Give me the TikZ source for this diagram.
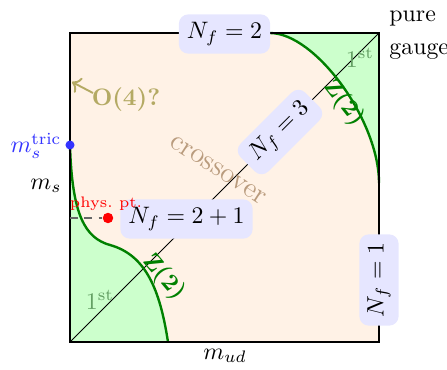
\documentclass[tikz,border=0pt]{standalone}
\usetikzlibrary{arrows.meta}
\definecolor{orfill}{RGB}{255,242,230}
\definecolor{grfill}{RGB}{204,255,204}
\definecolor{grline}{RGB}{0,128,0}
\definecolor{nodefill}{RGB}{230,230,255}
\definecolor{firstcol}{RGB}{100,160,100}
\definecolor{crosscol}{RGB}{185,155,125}
\definecolor{o4col}{RGB}{180,170,100}
\definecolor{triccol}{RGB}{51,51,255}
\begin{document}
\begin{tikzpicture}[x=0.42pt,y=-0.42pt,
  nf/.style={fill=nodefill, rounded corners=4pt, inner sep=3.4pt},
  zlabel/.style={text=grline, font=\bfseries, inner sep=1pt},
  firstlabel/.style={text=firstcol, inner sep=1pt},
  dotnode/.style={circle, inner sep=0pt, minimum size=#1},
  curveline/.style={grline, line width=1pt}]
\useasboundingbox (0,0) rectangle (447,370);
\coordinate (sw) at (70,342);
\coordinate (ne) at (379,33);
\coordinate (msaxis) at (70,218);
\coordinate (physpt) at (108,218);
\coordinate (tricpt) at (70,145);
\coordinate (o4a) at (93,93);
\coordinate (o4b) at (72,82);
% fills
\fill[orfill] (sw) rectangle (ne);
\fill[grfill] (270,33) .. controls (315,33) and (379,120) .. (379,183) -- (379,33) -- cycle;
\fill[grfill] (70,145) .. controls (72,215) and (85,238) .. (110,245) .. controls (146,255) and (160,290) .. (168,342) -- (70,342) -- cycle;
% diagonal
\draw[line width=0.4pt] (sw) -- (ne);
% transition curves
\draw[curveline] (270,33) .. controls (315,33) and (379,120) .. (379,183);
\draw[curveline] (70,145) .. controls (72,215) and (85,238) .. (110,245) .. controls (146,255) and (160,290) .. (168,342);
% frame
\draw[line width=1.2pt] (sw) rectangle (ne);
% labels
\node[firstlabel] (first1) at (360,58) {1$^{\mathrm{st}}$};
\node[firstlabel] (first2) at (100,300) {1$^{\mathrm{st}}$};
\node[zlabel, rotate=-52] (z2a) at (344,103) {Z(2)};
\node[zlabel, rotate=-50] (z2b) at (164,277) {Z(2)};
\node[text=crosscol, rotate=-33, font=\large] (cross) at (218,170) {crossover};
\node[nf] (nf2) at (224.5,34) {$N_f=2$};
\node[nf, rotate=45] (nf3) at (280,132) {$N_f=3$};
\node[nf, rotate=90] (nf1) at (379,280) {$N_f=1$};
\node[nf] (nf21) at (186.5,219) {$N_f=2+1$};
\node[dotnode=4.4pt, fill=red] (phys) at (physpt) {};
\draw[black!60, thick, dash pattern=on 3.4pt off 2.6pt] (msaxis) -- (phys);
\node[text=red, font=\fontsize{6.4}{7}\selectfont] (physlbl) at (106,204) {phys.\ pt.};
\node[dotnode=3.8pt, fill=triccol] (tric) at (tricpt) {};
\node[text=triccol] (mstric) at (36,146) {$m_s^{\mathrm{tric}}$};
\node (ms) at (46,186) {$m_s$};
\node (mud) at (225,356) {$m_{ud}$};
\node[text=o4col, font=\bfseries] (o4) at (126,100) {O(4)?};
\draw[o4col, thick, ->] (o4a) -- (o4b);
\node[anchor=base west, inner sep=0pt] (pure) at (389,21) {pure};
\node[anchor=base west, inner sep=0pt] (gauge) at (389,54) {gauge};
\end{tikzpicture}
\end{document}
